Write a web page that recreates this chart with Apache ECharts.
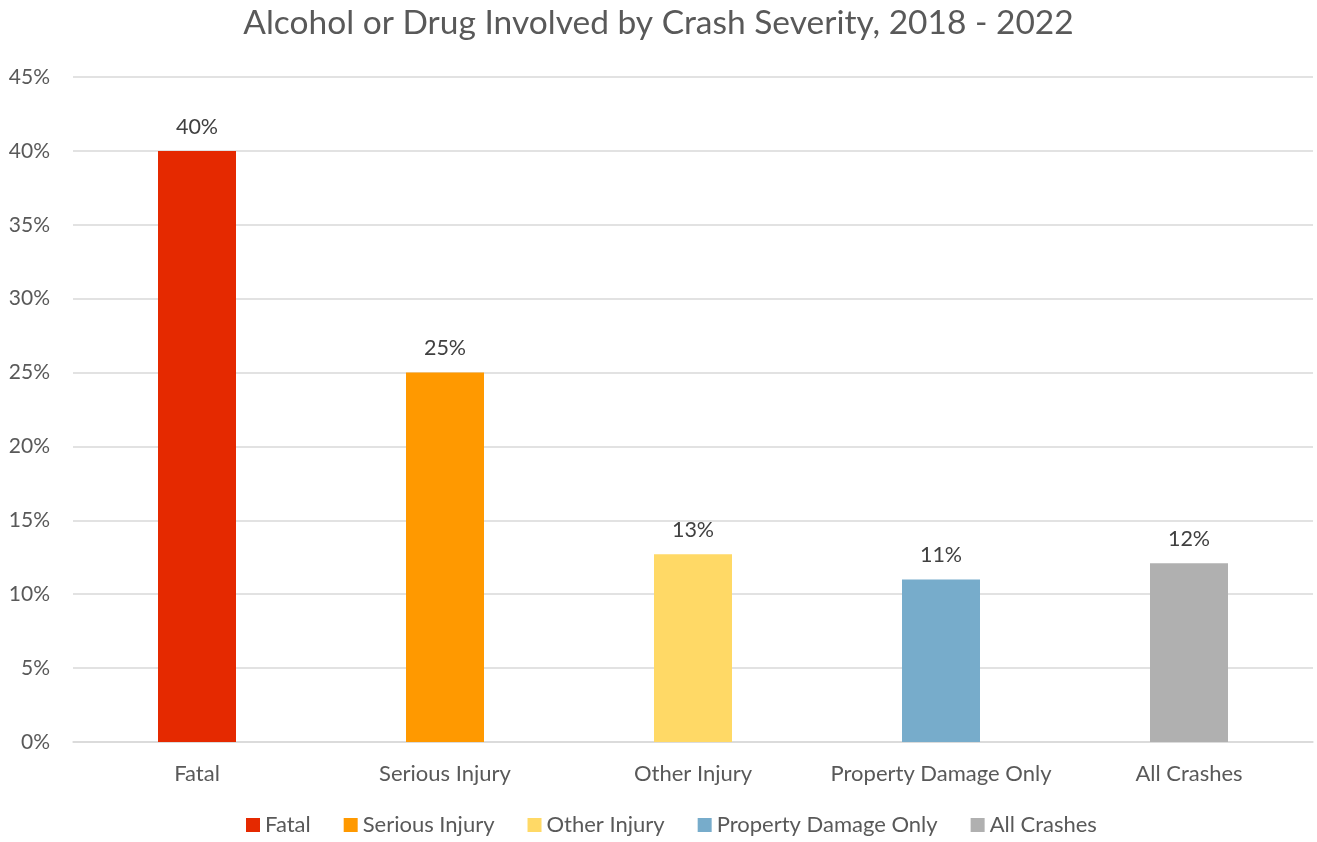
<!DOCTYPE html>
<html><head><meta charset="utf-8">
<script src="https://cdn.jsdelivr.net/npm/echarts@6/dist/echarts.min.js"></script>
<style>html,body{margin:0;padding:0;background:#fff}#c{width:1317px;height:842px}</style>
</head><body><div id="c"></div>
<script>
const categories = ['Fatal', 'Serious Injury', 'Other Injury', 'Property Damage Only', 'All Crashes'];
const values = [40.0, 25.0, 12.7, 11.0, 12.1];
const colors = ['#E52900', '#FF9900', '#FFD966', '#77ACCB', '#B0B0B0'];
const yTicks = { min: 0, max: 45, interval: 5 };
const FONT = 'Lato';
const txt = '#595959';

const chart = echarts.init(document.getElementById('c'));
const series = categories.map((name, i) => ({
  name: name,
  type: 'bar',
  barWidth: 78,
  barGap: '-100%',
  data: categories.map((c, j) => j === i ? values[i] : null),
  itemStyle: { color: colors[i] },
  label: {
    show: true, position: 'top', distance: 13,
    fontFamily: FONT, fontSize: 21.5, color: '#404040',
    formatter: p => Math.round(p.value) + '%'
  }
}));
chart.setOption({
  animation: false,
  title: {
    text: 'Alcohol or Drug Involved by Crash Severity, 2018 - 2022',
    left: 'center', top: 1,
    textStyle: { fontFamily: FONT, fontSize: 33.5, fontWeight: 'normal', color: txt }
  },
  legend: {
    bottom: 1, left: 241,
    icon: 'rect', itemWidth: 14, itemHeight: 14, itemGap: 33,
    textStyle: { fontFamily: FONT, fontSize: 22, color: txt },
    data: categories
  },
  grid: { left: 73, right: 4, top: 77, bottom: 100, containLabel: false },
  xAxis: {
    type: 'category', data: categories,
    axisLine: { lineStyle: { color: '#D9D9D9', width: 1.5 } },
    axisTick: { show: false },
    axisLabel: { interval: 0, fontFamily: FONT, fontSize: 22, color: txt, margin: 21 }
  },
  yAxis: {
    type: 'value', min: yTicks.min, max: yTicks.max, interval: yTicks.interval,
    axisLine: { show: false }, axisTick: { show: false },
    splitLine: { lineStyle: { color: '#D9D9D9', width: 1.5 } },
    axisLabel: { fontFamily: FONT, fontSize: 21, color: txt, margin: 23, formatter: '{value}%' }
  },
  series: series
});
</script></body></html>
